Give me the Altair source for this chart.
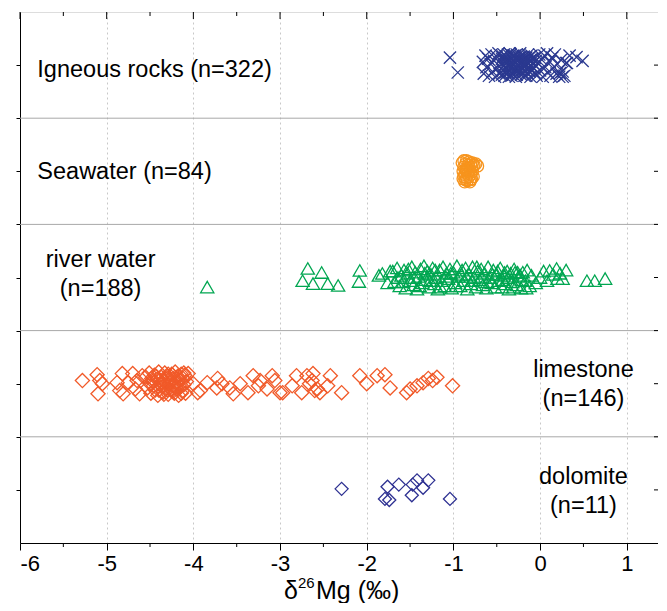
import altair as alt
import pandas as pd

FONT = "Liberation Sans"

# ---------------- data ----------------
band_names = ["dolomite", "limestone", "river water", "Seawater", "Igneous rocks"]
band_centers = [0.5, 1.5, 2.5, 3.5, 4.5]
separators = [1, 2, 3, 4]

x_major = [-6, -5, -4, -3, -2, -1, 0, 1]
x_minor = [-5.5, -4.5, -3.5, -2.5, -1.5, -0.5, 0.5]
y_ticks = [0.5, 1, 1.5, 2, 2.5, 3, 3.5, 4, 4.5]

# Igneous rocks: delta26Mg and vertical jitter within band
ign_x = [-1.04, -0.95,
         -0.66, -0.65, -0.63, -0.62, -0.60, -0.59, -0.57, -0.56, -0.55, -0.53, -0.52, -0.50, -0.49, -0.48, -0.47, -0.46,
         -0.44, -0.43, -0.42, -0.41, -0.40, -0.39, -0.38, -0.37, -0.36, -0.35, -0.34, -0.33, -0.32, -0.31, -0.30, -0.29,
         -0.28, -0.27, -0.26, -0.25, -0.24, -0.23, -0.22, -0.21, -0.20, -0.19, -0.18, -0.17, -0.16, -0.15, -0.14, -0.13,
         -0.12, -0.11, -0.10, -0.09, -0.08,
         -0.42, -0.38, -0.35, -0.31, -0.27, -0.24, -0.20, -0.17, -0.14, -0.11, -0.30, -0.22, -0.34, -0.16,
         -0.44, -0.43, -0.41, -0.40, -0.39, -0.37, -0.36, -0.35, -0.33, -0.32, -0.31, -0.29, -0.28, -0.27, -0.26,
         -0.25, -0.23, -0.22, -0.21, -0.19, -0.18, -0.16, -0.15, -0.13, -0.12, -0.10, -0.09, -0.07, -0.05, -0.04,
         -0.06, -0.05, -0.03, -0.01, 0.00, 0.02, 0.03, 0.05, 0.06, 0.08, 0.09, 0.11, 0.12, 0.14, 0.15, 0.17, 0.19, 0.20,
         0.22, 0.24, 0.26, 0.28, 0.30,
         0.31, 0.23, 0.26, 0.34, 0.42, 0.49]
ign_dy = [0.07, -0.07,
          0.03, -0.08, 0.09, -0.02, 0.06, -0.10, 0.01, 0.10, -0.06, 0.04, -0.11, 0.08, -0.03, 0.11, -0.08, 0.02,
          0.06, -0.05, 0.10, -0.10, 0.01, 0.08, -0.07, 0.03, -0.11, 0.11, -0.02, 0.06, -0.08, 0.09, -0.04, 0.02,
          -0.11, 0.10, -0.06, 0.05, -0.01, 0.11, -0.09, 0.03, -0.04, 0.08, -0.10, 0.00, 0.07, -0.07, 0.10, -0.02,
          0.04, -0.11, 0.09, -0.05, 0.02,
          -0.01, 0.05, -0.06, 0.00, -0.03, 0.07, 0.04, -0.06, 0.02, 0.05, 0.08, -0.02, 0.10, -0.10,
          -0.09, 0.08, 0.04, -0.07, -0.02, 0.10, 0.05, 0.00, -0.10, 0.03, -0.06, 0.09, 0.05, -0.09, 0.01,
          -0.04, 0.02, 0.08, -0.07, -0.01, 0.05, 0.03, -0.04, 0.07, -0.06, -0.01, 0.06, -0.03, 0.04, -0.10,
          0.07, -0.08, 0.02, 0.10, -0.05, 0.05, -0.11, 0.09, -0.02, 0.11, -0.07, 0.03, -0.10, 0.07, -0.03, 0.10, -0.08, 0.01,
          -0.11, 0.05, -0.06, -0.10, 0.02,
          0.02, -0.075, -0.11, 0.09, 0.075, 0.04]

# Seawater
sea_x = [-0.90, -0.89, -0.89, -0.88, -0.88, -0.87, -0.87, -0.86, -0.86, -0.85, -0.85, -0.84, -0.84, -0.83, -0.83,
         -0.82, -0.82, -0.81, -0.81, -0.80, -0.80, -0.79, -0.79, -0.78, -0.78, -0.77, -0.77, -0.76, -0.74, -0.72,
         -0.88, -0.85, -0.82, -0.80, -0.86]
sea_dy = [0.08, 0.00, -0.07, 0.10, 0.04, -0.03, -0.10, 0.07, 0.01, -0.06, 0.10, 0.03, -0.09, 0.06, -0.02,
          0.09, -0.05, 0.01, -0.10, 0.07, -0.03, 0.04, -0.07, 0.08, 0.00, -0.05, 0.05, 0.06, 0.07, 0.05,
          -0.05, 0.02, 0.04, -0.08, -0.08]

# River water
riv_x = [-3.84, -2.74, -2.68, -2.62, -2.52, -2.45, -2.33, -2.08, -2.09, -1.86, -1.82, -1.76, -1.73,
         -1.70, -1.68, -1.65, -1.62, -1.60, -1.57, -1.55, -1.53, -1.50, -1.48, -1.46, -1.44, -1.42, -1.40, -1.38,
         -1.36, -1.34, -1.32, -1.30, -1.28, -1.26, -1.24, -1.22, -1.20, -1.18, -1.16, -1.14, -1.12, -1.10, -1.08,
         -1.06, -1.04, -1.02, -1.00, -0.98, -0.96, -0.94, -0.92, -0.90, -0.88, -0.86, -0.84, -0.82, -0.80, -0.78,
         -0.76, -0.74, -0.72, -0.70, -0.68, -0.66, -0.64, -0.62, -0.60, -0.58, -0.56, -0.54, -0.52, -0.50, -0.48,
         -0.46, -0.44, -0.42, -0.40, -0.38, -0.36, -0.34, -0.32, -0.30, -0.27, -0.25, -0.22, -0.20, -0.17, -0.15,
         -0.12, -0.10,
         -1.64, -1.58, -1.52, -1.45, -1.39, -1.33, -1.27, -1.21, -1.15, -1.09, -1.03, -0.97, -0.91, -0.85, -0.79,
         -0.73, -0.67, -0.61, -0.55, -0.49, -0.43, -0.37, -0.31, -0.26, -0.21, -0.16,
         -0.41, -0.29, -0.23, -0.05, 0.00, 0.04, 0.08, 0.11, 0.15, 0.19, 0.20, 0.23, 0.26, 0.30, 0.54, 0.63, 0.75]
riv_dy = [-0.09, -0.03, 0.085, -0.057, 0.047, -0.057, -0.075, 0.066, -0.038, 0.02, 0.038, -0.05, 0.06,
          0.06, -0.04, 0.09, -0.08, 0.02, 0.07, -0.10, 0.04, -0.03, 0.10, -0.07, 0.05, -0.11, 0.01, 0.08,
          -0.05, 0.11, -0.02, 0.06, -0.09, 0.03, 0.09, -0.06, 0.00, -0.11, 0.07, -0.03, 0.10, -0.08, 0.04,
          -0.01, 0.08, -0.10, 0.05, -0.05, 0.11, 0.01, -0.08, 0.07, -0.03, 0.09, -0.11, 0.03, -0.06, 0.10,
          0.00, -0.09, 0.06, -0.02, 0.08, -0.07, 0.04, -0.10, 0.10, 0.00, -0.05, 0.07, -0.09, 0.03, -0.03,
          0.09, -0.09, 0.02, -0.06, 0.06, -0.11, 0.04, -0.04, 0.08, -0.07, 0.01, -0.10, 0.05, -0.03, 0.07,
          -0.08, 0.02,
          0.00, -0.04, 0.08, 0.00, -0.08, 0.04, -0.03, 0.07, -0.09, 0.01, 0.04, -0.08, 0.03, 0.01, -0.03,
          0.10, 0.01, -0.04, 0.03, 0.06, -0.02, 0.00, -0.09, 0.05, -0.02, -0.10,
          0.047, 0.047, 0.02, -0.05, 0.00, 0.06, -0.03, 0.066, 0.03, 0.085, -0.01, 0.04, -0.01, 0.07, -0.03, -0.03, -0.01]

# Limestone
lim_x = [-5.28, -5.11, -5.08, -5.05, -5.10, -4.82, -4.88, -4.85, -4.81, -4.70, -4.75, -4.65, -4.67, -4.62, -4.59,
         -4.55, -4.53, -4.51, -4.49, -4.47, -4.45, -4.44, -4.42, -4.41, -4.40, -4.38, -4.37, -4.35, -4.34, -4.33,
         -4.31, -4.30, -4.29, -4.28, -4.27, -4.26, -4.25, -4.24, -4.23, -4.22, -4.21, -4.20, -4.19, -4.18, -4.17,
         -4.16, -4.15, -4.14, -4.13, -4.12, -4.11, -4.10, -4.09, -4.08,
         -4.50, -4.46, -4.43, -4.39, -4.36, -4.32, -4.29, -4.26, -4.23, -4.20, -4.17, -4.14, -4.11, -4.30, -4.24,
         -4.34, -4.40, -4.48,
         -4.06, -4.00, -3.95, -3.92, -3.84, -3.72, -3.67, -3.73, -3.58, -3.46, -3.54, -3.37, -3.31, -3.23, -3.25,
         -3.15, -3.09, -3.06, -3.00, -2.97, -2.86, -2.81, -2.75, -2.69, -2.66, -2.60, -2.63, -2.62, -2.57, -2.54,
         -2.42, -2.45, -2.29, -2.08, -2.00, -1.88, -1.79, -1.73, -1.54, -1.50, -1.42, -1.35, -1.29, -1.24, -1.19,
         -1.01]
lim_dy = [0.03, 0.085, 0.03, 0.00, -0.095, 0.095, 0.01, -0.065, -0.095, 0.095, 0.01, 0.03, -0.05, -0.095, 0.075,
          0.06, -0.04, 0.10, -0.09, 0.02, 0.08, -0.06, 0.04, -0.11, 0.11, -0.01, 0.06, -0.08, 0.02, 0.10,
          -0.04, 0.07, -0.10, 0.00, 0.04, -0.06, 0.09, -0.02, 0.05, -0.09, 0.11, 0.01, -0.05, 0.07, -0.11,
          0.03, -0.03, 0.09, -0.07, 0.05, -0.01, 0.08, -0.09, 0.02,
          0.00, -0.02, 0.07, 0.03, -0.03, 0.05, 0.09, 0.02, -0.07, -0.03, 0.04, -0.09, 0.10, -0.06, 0.08,
          -0.10, -0.06, 0.05,
          0.095, 0.00, -0.085, -0.065, 0.01, 0.05, 0.00, -0.04, -0.04, 0.00, -0.095, -0.085, 0.075, 0.03, -0.02,
          -0.05, 0.075, 0.03, -0.085, -0.085, -0.02, 0.075, -0.085, 0.075, 0.00, -0.065, 0.03, 0.095, -0.05, -0.085,
          0.075, -0.02, -0.085, 0.075, 0.00, 0.075, 0.085, -0.04, -0.085, -0.05, -0.02, 0.01, 0.05, 0.03, 0.06,
          -0.02]

# Dolomite
dol_x = [-2.29, -1.76, -1.79, -1.74, -1.63, -1.48, -1.47, -1.42, -1.35, -1.29, -1.04]
dol_dy = [0.01, 0.03, -0.085, -0.095, 0.05, -0.05, 0.05, 0.09, 0.02, 0.09, -0.085]

labels = ["Igneous rocks (n=322)", "Seawater (n=84)", "river water\n(n=188)", "limestone\n(n=146)", "dolomite\n(n=11)"]
label_x = [-5.80, -5.80, -5.07, 0.50, 0.50]
label_y = [4.45, 3.49, 2.665, 1.629, 0.625]   # y of the first text line
label_align = ["left", "left", "center", "center", "center"]

title_parts = ["δ", "26", "Mg (‰)"]

# ---------------- chart ----------------
W, H = 638, 531
x_scale = alt.Scale(domain=[-6, 1.36], nice=False, zero=False)
y_scale = alt.Scale(domain=[0, 5], nice=False, zero=False)

x_axis = alt.Axis(values=x_major, tickSize=7, tickColor="black", domainColor="black",
                  grid=True, gridDash=[2, 3], gridColor="#c8c8c8",
                  labelFont=FONT, labelFontSize=22, labelColor="black", labelPadding=3,
                  labelExpr="datum.value < 0 ? '-' + abs(datum.value) : '' + datum.value",
                  title=None)
y_axis = alt.Axis(values=y_ticks, labels=False, tickSize=4, tickColor="black", domainColor="black",
                  grid=False, title=None)

X = alt.X("x:Q", scale=x_scale, axis=x_axis, title=None)
Y = alt.Y("y:Q", scale=y_scale, axis=y_axis, title=None)


def pts(xs, dys, center):
    return pd.DataFrame({"x": xs, "y": [center + d for d in dys]})


sep_df = pd.DataFrame({"y": separators})
seps = alt.Chart(sep_df).mark_rule(color="#a8a8a8", strokeWidth=1).encode(y=Y)

XPATH = "M-1,-1L1,1M-1,1L1,-1"
ign = alt.Chart(pts(ign_x, ign_dy, 4.5)).mark_point(shape=XPATH, size=150, color="#2B3990",
                                                   strokeWidth=1.3, filled=False, opacity=1).encode(x=X, y=Y)
sea = alt.Chart(pts(sea_x, sea_dy, 3.5)).mark_point(shape="circle", size=140, color="#F7941D",
                                                   strokeWidth=1.3, filled=False, opacity=1).encode(x=X, y=Y)
riv = alt.Chart(pts(riv_x, riv_dy, 2.5)).mark_point(shape="triangle-up", size=175, color="#00A651",
                                                   strokeWidth=1.3, filled=False, opacity=1).encode(x=X, y=Y)
lim = alt.Chart(pts(lim_x, lim_dy, 1.5)).mark_point(shape="diamond", size=200, color="#F15A29",
                                                   strokeWidth=1.3, filled=False, opacity=1).encode(x=X, y=Y)
dol = alt.Chart(pts(dol_x, dol_dy, 0.5)).mark_point(shape="diamond", size=170, color="#2E3192",
                                                   strokeWidth=1.3, filled=False, opacity=1).encode(x=X, y=Y)

lab_df = pd.DataFrame({"x": label_x, "y": label_y, "t": labels, "a": label_align})
lab_left = alt.Chart(lab_df[lab_df.a == "left"]).mark_text(
    font=FONT, fontSize=23.5, color="black", align="left", baseline="middle", lineBreak="\n", lineHeight=29
).encode(x=X, y=Y, text="t:N")
lab_center = alt.Chart(lab_df[lab_df.a == "center"]).mark_text(
    font=FONT, fontSize=23.5, color="black", align="center", baseline="middle", lineBreak="\n", lineHeight=29
).encode(x=X, y=Y, text="t:N")

# x-axis title with a real superscript
t_delta = alt.Chart(pd.DataFrame({"t": [title_parts[0]]})).mark_text(
    font=FONT, fontSize=25, color="black", align="right", baseline="alphabetic"
).encode(text="t:N", x=alt.value(278), y=alt.value(587))
t_sup = alt.Chart(pd.DataFrame({"t": [title_parts[1]]})).mark_text(
    font=FONT, fontSize=15, color="black", align="left", baseline="alphabetic"
).encode(text="t:N", x=alt.value(278), y=alt.value(576))
t_rest = alt.Chart(pd.DataFrame({"t": [title_parts[2]]})).mark_text(
    font=FONT, fontSize=25, color="black", align="left", baseline="alphabetic"
).encode(text="t:N", x=alt.value(296), y=alt.value(587))

# extra tick marks (minor bottom, mirrored top and right)
minor_df = pd.DataFrame({"x": x_minor})
major_df = pd.DataFrame({"x": x_major})
yt_df = pd.DataFrame({"y": y_ticks})
bot_minor = alt.Chart(minor_df).mark_rule(color="black").encode(x=X, y=alt.value(H), y2=alt.value(H + 4))
top_minor = alt.Chart(minor_df).mark_rule(color="black").encode(x=X, y=alt.value(0), y2=alt.value(4))
top_major = alt.Chart(major_df).mark_rule(color="black").encode(x=X, y=alt.value(0), y2=alt.value(7))
right_t = alt.Chart(yt_df).mark_rule(color="black").encode(y=Y, x=alt.value(W - 4), x2=alt.value(W))

chart = alt.layer(
    seps, lim, dol, riv, sea, ign, lab_left, lab_center, t_delta, t_sup, t_rest,
    bot_minor, top_minor, top_major, right_t
).properties(
    width=W, height=H,
    autosize=alt.AutoSizeParams(type="none"),
    padding={"left": 12, "top": 4, "right": 0, "bottom": 60},
).configure_view(stroke="black", strokeWidth=1).configure(background="white")

chart.save("out.html", embed_options={"renderer": "svg", "actions": False})
